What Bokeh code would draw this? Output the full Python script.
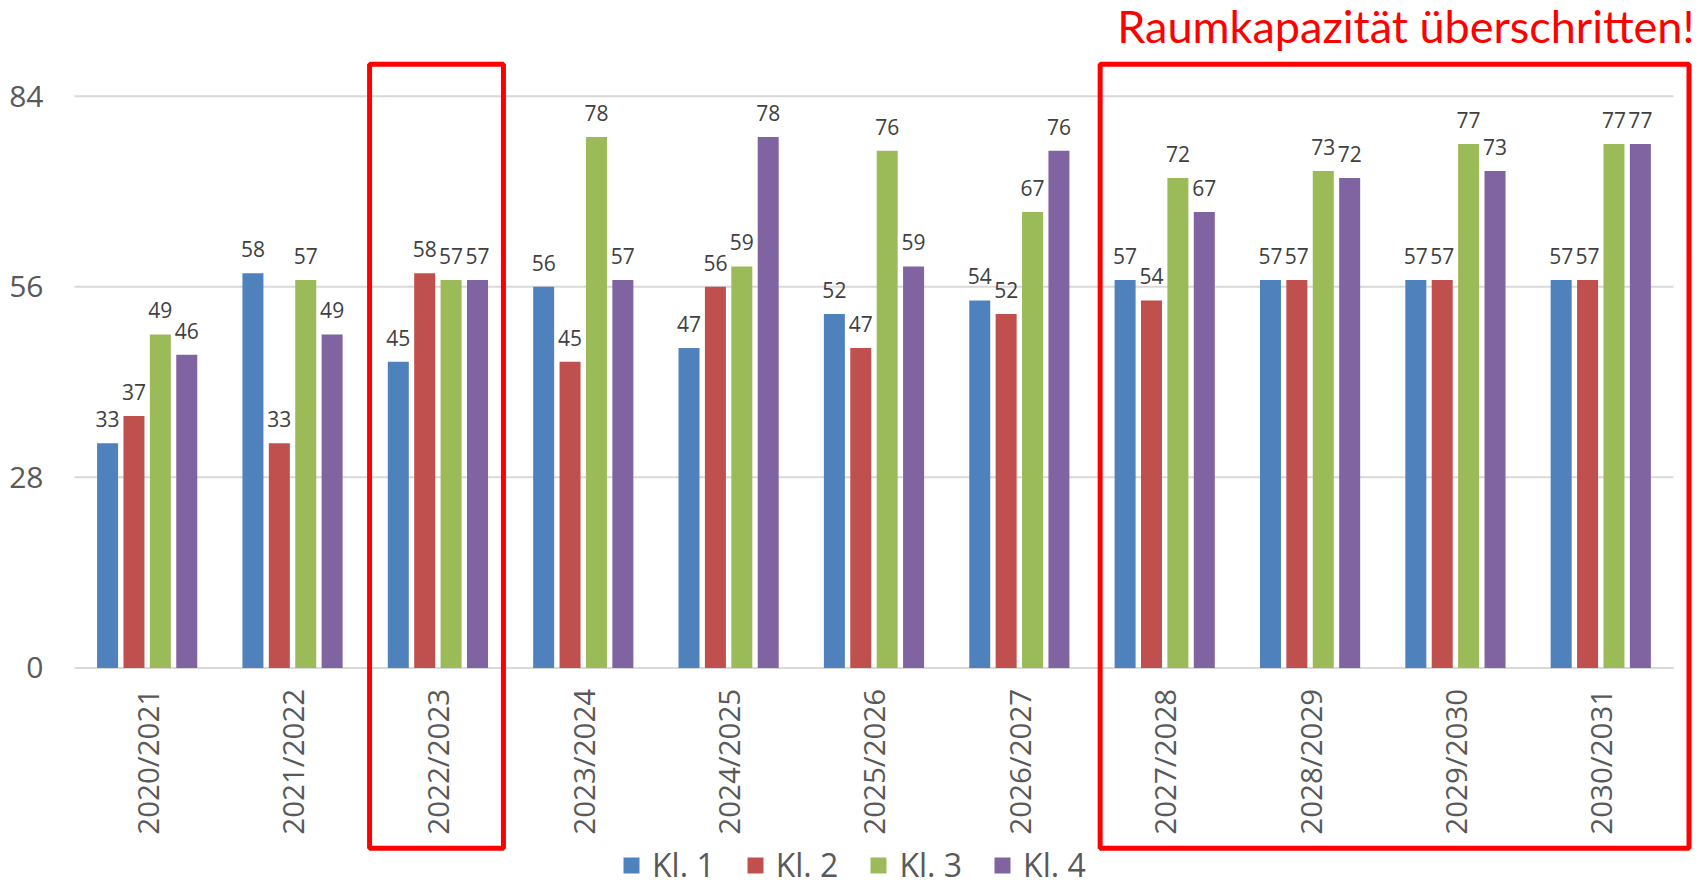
import math
from bokeh.plotting import figure
from bokeh.models import (ColumnDataSource, Range1d, Legend, LegendItem, BoxAnnotation, Label)
from bokeh.core.properties import value
from bokeh.embed import file_html
from bokeh.resources import INLINE

years = ["2020/2021", "2021/2022", "2022/2023", "2023/2024", "2024/2025", "2025/2026",
         "2026/2027", "2027/2028", "2028/2029", "2029/2030", "2030/2031"]
kl1 = [33, 58, 45, 56, 47, 52, 54, 57, 57, 57, 57]
kl2 = [37, 33, 58, 45, 56, 47, 52, 54, 57, 57, 57]
kl3 = [49, 57, 57, 78, 59, 76, 67, 72, 73, 77, 77]
kl4 = [46, 49, 57, 57, 78, 59, 76, 67, 72, 73, 77]
series_names = ["Kl. 1", "Kl. 2", "Kl. 3", "Kl. 4"]
series_values = [kl1, kl2, kl3, kl4]
colors = ["#4F81BD", "#C0504D", "#9BBB59", "#8064A2"]
y_ticks = [0, 28, 56, 84]
title_text = "Raumkapazität überschritten!"
highlight_single = "2022/2023"
highlight_first = "2027/2028"
highlight_last = "2030/2031"

FONT = "Open Sans"
W, H = 1700, 888

# frame covers the whole canvas; category i is centred on x = i
p = figure(x_range=Range1d(-1.009, 10.686), y_range=Range1d(-32.42, 98.07),
           width=W, height=H, output_backend="svg", toolbar_location=None,
           x_axis_type=None, y_axis_type=None,
           min_border_left=0, min_border_right=0, min_border_top=0, min_border_bottom=0)
p.outline_line_color = None
p.background_fill_color = "white"
p.border_fill_color = "white"
p.xgrid.grid_line_color = None
p.ygrid.grid_line_color = None

cat_x = list(range(len(years)))
x_lo, x_hi = -0.5, len(years) - 0.5

# horizontal gridlines and value-axis labels
gsrc = ColumnDataSource(dict(x0=[x_lo] * len(y_ticks), x1=[x_hi] * len(y_ticks), y=y_ticks,
                             lbl=[str(t) for t in y_ticks]))
p.segment(x0="x0", x1="x1", y0="y", y1="y", source=gsrc, line_color="#d9d9d9", line_width=2)
p.text(x="x0", y="y", text="lbl", source=gsrc, x_offset=-31, text_align="right",
       text_baseline="middle", text_font=value(FONT), text_font_size="30px",
       text_color="#595959")

# category labels (rotated)
csrc = ColumnDataSource(dict(x=cat_x, y=[0] * len(years), lbl=years))
p.text(x="x", y="y", text="lbl", source=csrc, angle=math.pi / 2, y_offset=21,
       text_align="right", text_baseline="middle", text_font=value(FONT),
       text_font_size="29.5px", text_color="#595959")

offsets = [-0.2724, -0.0908, 0.0908, 0.2724]
bar_w = 0.1445
items = []
for name, vals, col, off in zip(series_names, series_values, colors, offsets):
    src = ColumnDataSource(dict(x=[c + off for c in cat_x], y=vals, lbl=[str(v) for v in vals]))
    r = p.vbar(x="x", top="y", bottom=0, width=bar_w, source=src,
               fill_color=col, line_color=None)
    p.text(x="x", y="y", text="lbl", source=src,
           text_align="center", text_baseline="alphabetic", y_offset=-24,
           text_font=value(FONT), text_font_size="21px", text_color="#404040")
    items.append(LegendItem(label=name, renderers=[r]))

# highlight boxes
i1 = years.index(highlight_single)
p.add_layout(BoxAnnotation(left=i1 - 0.47, right=i1 + 0.451, bottom=-26.5, top=88.7,
                           fill_color=None, fill_alpha=0, line_color="#FF0000",
                           line_alpha=1, line_width=5))
i2 = years.index(highlight_first)
i3 = years.index(highlight_last)
p.add_layout(BoxAnnotation(left=i2 - 0.444, right=i3 + 0.607, bottom=-26.5, top=88.7,
                           fill_color=None, fill_alpha=0, line_color="#FF0000",
                           line_alpha=1, line_width=5))

p.add_layout(Label(x=i3 + 0.645, y=94.3, text=title_text, text_align="right",
                   text_baseline="middle", text_color="#FF0000", text_font="Lato",
                   text_font_size="45px"))

legend = Legend(items=items, orientation="horizontal", location=(621, 2),
                label_text_font=FONT, label_text_font_size="32px", label_text_color="#595959",
                glyph_width=20, glyph_height=20, label_standoff=11, spacing=30,
                padding=0, margin=0, border_line_color=None, background_fill_alpha=0)
p.add_layout(legend, "center")

open("out.html", "w").write(file_html(p, INLINE))
